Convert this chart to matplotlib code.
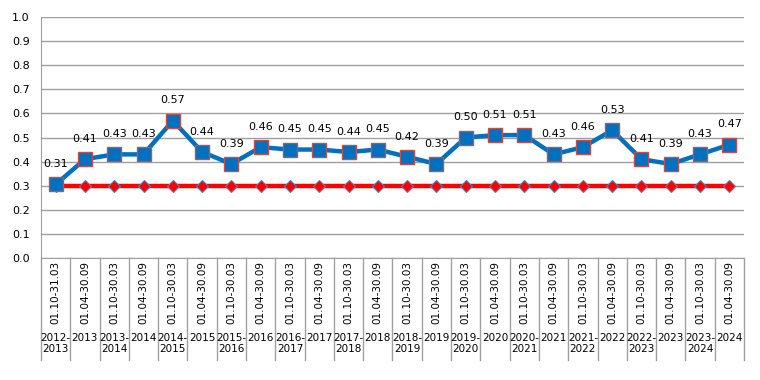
import matplotlib.pyplot as plt
from matplotlib.transforms import blended_transform_factory

# значення показника
values = [0.305, 0.41, 0.43, 0.43, 0.57, 0.44, 0.39, 0.46, 0.45, 0.45, 0.44, 0.45,
          0.42, 0.39, 0.50, 0.51, 0.51, 0.43, 0.46, 0.53, 0.41, 0.39, 0.43, 0.47]
value_labels = ["0.31", "0.41", "0.43", "0.43", "0.57", "0.44", "0.39", "0.46",
                "0.45", "0.45", "0.44", "0.45", "0.42", "0.39", "0.50", "0.51",
                "0.51", "0.43", "0.46", "0.53", "0.41", "0.39", "0.43", "0.47"]
threshold = [0.3] * 24

periods = ["01.10-31.03"] + ["01.04-30.09", "01.10-30.03"] * 11 + ["01.04-30.09"]
seasons = ["2012-\n2013", "2013", "2013-\n2014", "2014", "2014-\n2015", "2015",
           "2015-\n2016", "2016", "2016-\n2017", "2017", "2017-\n2018", "2018",
           "2018-\n2019", "2019", "2019-\n2020", "2020", "2020-\n2021", "2021",
           "2021-\n2022", "2022", "2022-\n2023", "2023", "2023-\n2024", "2024"]

W, H = 760, 380
fig = plt.figure(figsize=(7.6, 3.8), dpi=100)
ax = fig.add_axes([41 / W, (H - 258) / H, (744 - 41) / W, (258 - 17) / H])

x = list(range(len(values)))
ax.plot(x, threshold, color="#FF0000", lw=3.2, marker="D", markersize=6.5,
        markerfacecolor="#FF0000", markeredgecolor="#4F81BD", markeredgewidth=0.8, zorder=3)
ax.plot(x, values, color="#0070C0", lw=3.2, marker="s", markersize=9.5,
        markerfacecolor="#0070C0", markeredgecolor="#C0504D", markeredgewidth=1.0, zorder=4)

for xi, v, lab in zip(x, values, value_labels):
    ax.annotate(lab, (xi, v), xytext=(0, 11), textcoords="offset points",
                ha="center", va="bottom", fontsize=8, color="black")

ax.set_xlim(-0.5, len(values) - 0.5)
ax.set_ylim(0, 1.0)
ax.set_yticks([i / 10 for i in range(11)])
ax.set_yticklabels([f"{i / 10:.1f}" for i in range(11)], fontsize=8)
ax.grid(axis="y", color="#A0A0A0", lw=1)
ax.set_axisbelow(True)
ax.set_xticks([])
ax.tick_params(axis="y", length=0, pad=8)
for s in ["top", "right"]:
    ax.spines[s].set_visible(False)
ax.spines["left"].set_color("#A0A0A0")
ax.spines["bottom"].set_color("#A0A0A0")

# таблиця категорій під віссю
tr = blended_transform_factory(ax.transData, ax.transAxes)
ph = 258 - 17
for i in range(len(values) + 1):
    ax.plot([i - 0.5, i - 0.5], [0, -(360 - 258) / ph], color="#A0A0A0", lw=1,
            transform=tr, clip_on=False)
for i, (p, s) in enumerate(zip(periods, seasons)):
    ax.text(i, -(292 - 258) / ph, p, rotation=90, ha="center", va="center",
            fontsize=7.5, transform=tr)
    ax.text(i, -(333 - 258) / ph, s, ha="center", va="top", fontsize=7.5,
            linespacing=1.1, transform=tr)

fig.savefig("out.png", dpi=100)
